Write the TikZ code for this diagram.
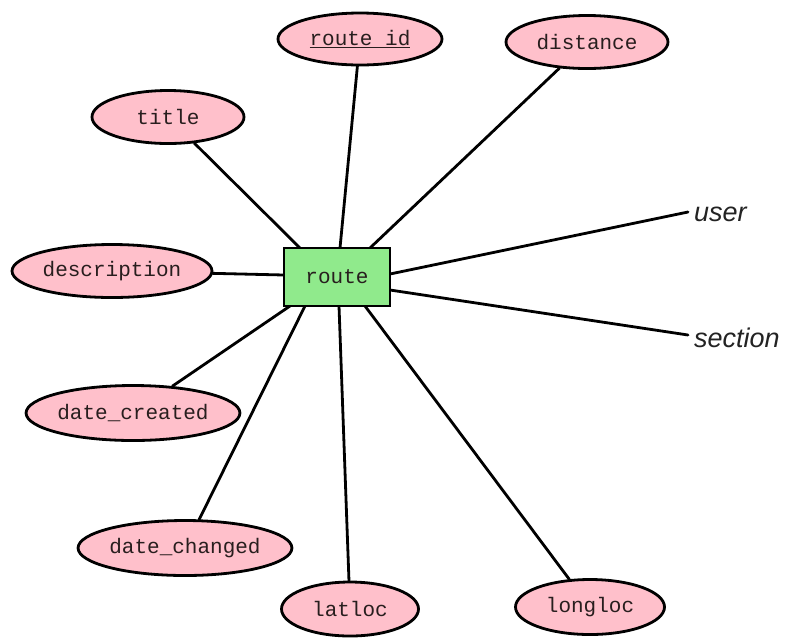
\documentclass[tikz,border=0pt]{standalone}
\usepackage{fontspec}
\setmonofont{Liberation Mono}
\newfontfamily\labfont{Liberation Sans}
\usetikzlibrary{shapes.geometric}
\definecolor{attrpink}{RGB}{255,192,203}
\definecolor{entgreen}{RGB}{144,234,140}
\definecolor{labgray}{RGB}{35,35,35}
\definecolor{txtgray}{RGB}{40,30,30}
\begin{document}
\begin{tikzpicture}[x=1pt,y=-1pt,
  attr/.style={ellipse,draw=black,line width=2.8pt,fill=attrpink,inner sep=0pt,text=txtgray,
     font=\ttfamily\fontsize{21}{24}\selectfont},
  ent/.style={rectangle,draw=black,line width=2.8pt,fill=entgreen,inner sep=0pt,text=txtgray,
     minimum width=106pt,minimum height=58pt,font=\ttfamily\fontsize{21}{24}\selectfont},
  conn/.style={line width=2.8pt,line cap=round},
  rel/.style={font=\labfont\itshape\fontsize{27}{30}\selectfont,text=labgray,inner sep=0pt,anchor=west}]
\useasboundingbox (0,0) rectangle (789,641);
\fill[white] (0,0) rectangle (789,641);
% endpoints on the entity border
\coordinate (pTitle) at (300,248);
\coordinate (pId) at (340,248);
\coordinate (pDist) at (370,248);
\coordinate (pDesc) at (284,275);
\coordinate (pUser) at (390,274);
\coordinate (pSect) at (390,290);
\coordinate (pDc) at (290,306);
\coordinate (pDch) at (305,306);
\coordinate (pLat) at (339,306);
\coordinate (pLong) at (365,306);
\coordinate (eUser) at (688,212);
\coordinate (eSect) at (688,335);
% nodes
\node[attr,minimum width=164pt,minimum height=52pt] (rid) at (360,39) {\underline{route id}};
\node[attr,minimum width=162pt,minimum height=53pt] (dist) at (587,42) {distance};
\node[attr,minimum width=152pt,minimum height=53pt] (title) at (168,117) {title};
\node[attr,minimum width=200pt,minimum height=53pt] (desc) at (112,271) {description};
\node[attr,minimum width=213pt,minimum height=55pt] (dc) at (133,413) {date\_created};
\node[attr,minimum width=210pt,minimum height=55pt] (dch) at (185,548) {date\_changed};
\node[attr,minimum width=137pt,minimum height=54pt] (lat) at (350,609) {latloc};
\node[attr,minimum width=149pt,minimum height=55pt] (long) at (590,607) {longloc};
\node[rel] (user) at (694,214) {user};
\node[rel] (sect) at (694,338) {section};
% connectors
\draw[conn] (title) -- (pTitle);
\draw[conn] (rid) -- (pId);
\draw[conn] (dist) -- (pDist);
\draw[conn] (desc) -- (pDesc);
\draw[conn] (dc) -- (pDc);
\draw[conn] (dch) -- (pDch);
\draw[conn] (lat) -- (pLat);
\draw[conn] (long) -- (pLong);
\draw[conn] (pUser) -- (eUser);
\draw[conn] (pSect) -- (eSect);
\node[ent] (route) at (337,277) {route};
\end{tikzpicture}
\end{document}
